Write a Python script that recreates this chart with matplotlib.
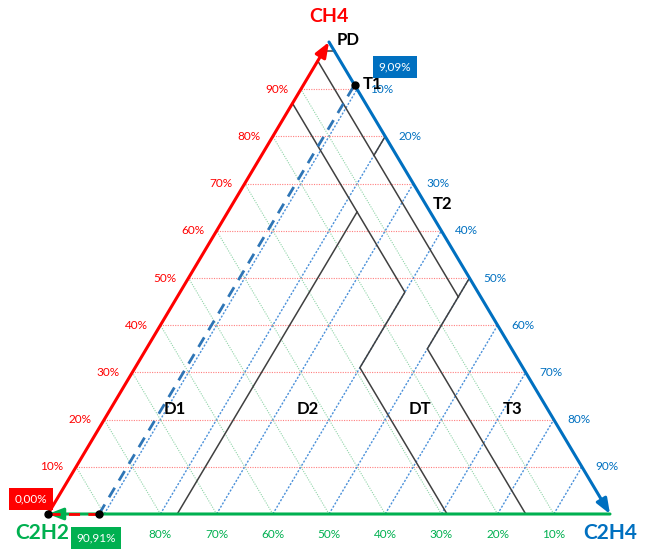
import matplotlib
matplotlib.use("Agg")
import matplotlib.pyplot as plt
import numpy as np

plt.rcParams["font.family"] = ["Lato", "DejaVu Sans"]

# Duval triangle 1 - percentages
ticks = [10, 20, 30, 40, 50, 60, 70, 80, 90]

# sample gas ratio (%)
s_ch4 = 0.00
s_c2h4 = 9.09
s_c2h2 = 90.91

# zone boundaries as (CH4, C2H4, C2H2) in %
zone_lines = [
    [(98, 0, 2), (98, 2, 0)],
    [(96, 0, 4), (46, 50, 4)],
    [(80, 20, 0), (76, 20, 4)],
    [(50, 50, 0), (46, 50, 4)],
    [(46, 50, 4), (35, 50, 15), (0, 85, 15)],
    [(87, 0, 13), (47, 40, 13), (31, 40, 29), (0, 71, 29)],
    [(64, 23, 13), (0, 23, 77)],
]
zone_names = ["PD", "T1", "T2", "D1", "D2", "DT", "T3"]

RED = "#ff0000"
BLUE = "#0070c0"
GREEN = "#00b050"


def tern(ch4, c2h4):
    # ternary -> cartesian, C2H2 vertex at (0,0), C2H4 at (1,0), CH4 at (0.5,1)
    return c2h4 / 100.0 + ch4 / 200.0, ch4 / 100.0


def pix(xp, yp):
    # picture pixel -> data coords (for placing text)
    return (xp - 48) / 562.0, (514 - yp) / 472.0


fig = plt.figure(figsize=(6.49, 5.49), dpi=100)
ax = fig.add_axes([0, 0, 1, 1])
ax.set_axis_off()
ax.set_xlim(-48 / 562.0, 601 / 562.0)
ax.set_ylim(-35 / 472.0, 514 / 472.0)

# grid lines
for t in ticks:
    # CH4 constant (horizontal)
    x0, y0 = tern(t, 0)
    x1, y1 = tern(t, 100 - t)
    ax.plot([x0, x1], [y0, y1], color="#ff7f7f", lw=0.8, ls=(0, (1, 1.2)), zorder=1)
    # C2H4 constant
    x0, y0 = tern(0, t)
    x1, y1 = tern(100 - t, t)
    ax.plot([x0, x1], [y0, y1], color="#4a90d9", lw=1.0, ls=(0, (1.5, 1.2)), zorder=1)
    # C2H2 constant
    x0, y0 = tern(0, 100 - t)
    x1, y1 = tern(100 - t, 0)
    ax.plot([x0, x1], [y0, y1], color="#8fd4a8", lw=0.8, ls=(0, (1, 1.2)), zorder=1)

# zone boundaries
for line in zone_lines:
    xs, ys = zip(*[tern(p[0], p[1]) for p in line])
    ax.plot(xs, ys, color="#404040", lw=1.1, zorder=3)

# triangle edges with arrows
A = tern(0, 0)      # C2H2
B = tern(0, 100)    # C2H4
C = tern(100, 0)    # CH4
arr = "-|>,head_length=0.9,head_width=0.35"
ax.annotate("", xy=C, xytext=A,
            arrowprops=dict(arrowstyle=arr, color=RED, lw=2.2, shrinkA=0, shrinkB=0), zorder=4)
ax.annotate("", xy=B, xytext=C,
            arrowprops=dict(arrowstyle=arr, color=BLUE, lw=2.2, shrinkA=0, shrinkB=0), zorder=4)
ax.annotate("", xy=A, xytext=B,
            arrowprops=dict(arrowstyle=arr, color=GREEN, lw=2.2, shrinkA=0, shrinkB=0), zorder=4)

# tick labels
for t in ticks:
    x, y = tern(t, 0)
    ax.text(x - 24 / 562.0, y, "%d%%" % t, color=RED, fontsize=8.5, ha="center", va="center", zorder=5)
    x, y = tern(100 - t, t)
    ax.text(x + 25 / 562.0, y, "%d%%" % t, color=BLUE, fontsize=8.5, ha="center", va="center", zorder=5)
    if t < 90:
        x, y = tern(0, 100 - t)
        ax.text(x, y - 20 / 472.0, "%d%%" % t, color=GREEN, fontsize=8.5, ha="center", va="center", zorder=5)

# vertex labels
ax.text(*pix(329, 17), "CH4", color=RED, fontsize=14, fontweight="bold", ha="center", va="center")
ax.text(*pix(42, 533), "C2H2", color=GREEN, fontsize=15, fontweight="bold", ha="center", va="center")
ax.text(*pix(610, 533), "C2H4", color=BLUE, fontsize=15, fontweight="bold", ha="center", va="center")

# zone names
zone_pos = [(348, 40), (373, 84), (443, 204), (175, 409), (308, 409), (420, 409), (513, 409)]
for name, (xp, yp) in zip(zone_names, zone_pos):
    ax.text(*pix(xp, yp), name, color="black", fontsize=12, fontweight="bold", ha="center", va="center", zorder=6)

# sample point projections
pt = tern(s_ch4, s_c2h4)
p_left = tern(s_ch4, 0)
p_right = tern(100 - s_c2h4, s_c2h4)
p_bot = tern(0, 100 - s_c2h2)
ax.plot([pt[0], p_left[0]], [pt[1], p_left[1]], color=RED, lw=2, ls=(0, (4, 3)), zorder=5)
ax.plot([pt[0], p_right[0]], [pt[1], p_right[1]], color="#2e75b6", lw=2, ls=(0, (4, 3)), zorder=5)
ax.plot([pt[0], p_bot[0]], [pt[1], p_bot[1]], color=GREEN, lw=2, ls=(0, (4, 3)), zorder=5)
for p in (p_left, p_right, p_bot):
    ax.plot(p[0], p[1], "o", color="black", ms=5, zorder=7)

# value boxes
box = dict(boxstyle="square,pad=0.45", ec="none")
ax.text(*pix(31, 499), ("%.2f%%" % s_ch4).replace(".", ","), color="white", fontsize=8.5,
        ha="center", va="center", bbox=dict(box, fc=RED), zorder=8)
ax.text(*pix(96, 538), ("%.2f%%" % s_c2h2).replace(".", ","), color="white", fontsize=8.5,
        ha="center", va="center", bbox=dict(box, fc=GREEN), zorder=8)
ax.text(*pix(395, 67), ("%.2f%%" % s_c2h4).replace(".", ","), color="white", fontsize=8.5,
        ha="center", va="center", bbox=dict(box, fc=BLUE), zorder=8)

fig.savefig("out.png", dpi=100)
